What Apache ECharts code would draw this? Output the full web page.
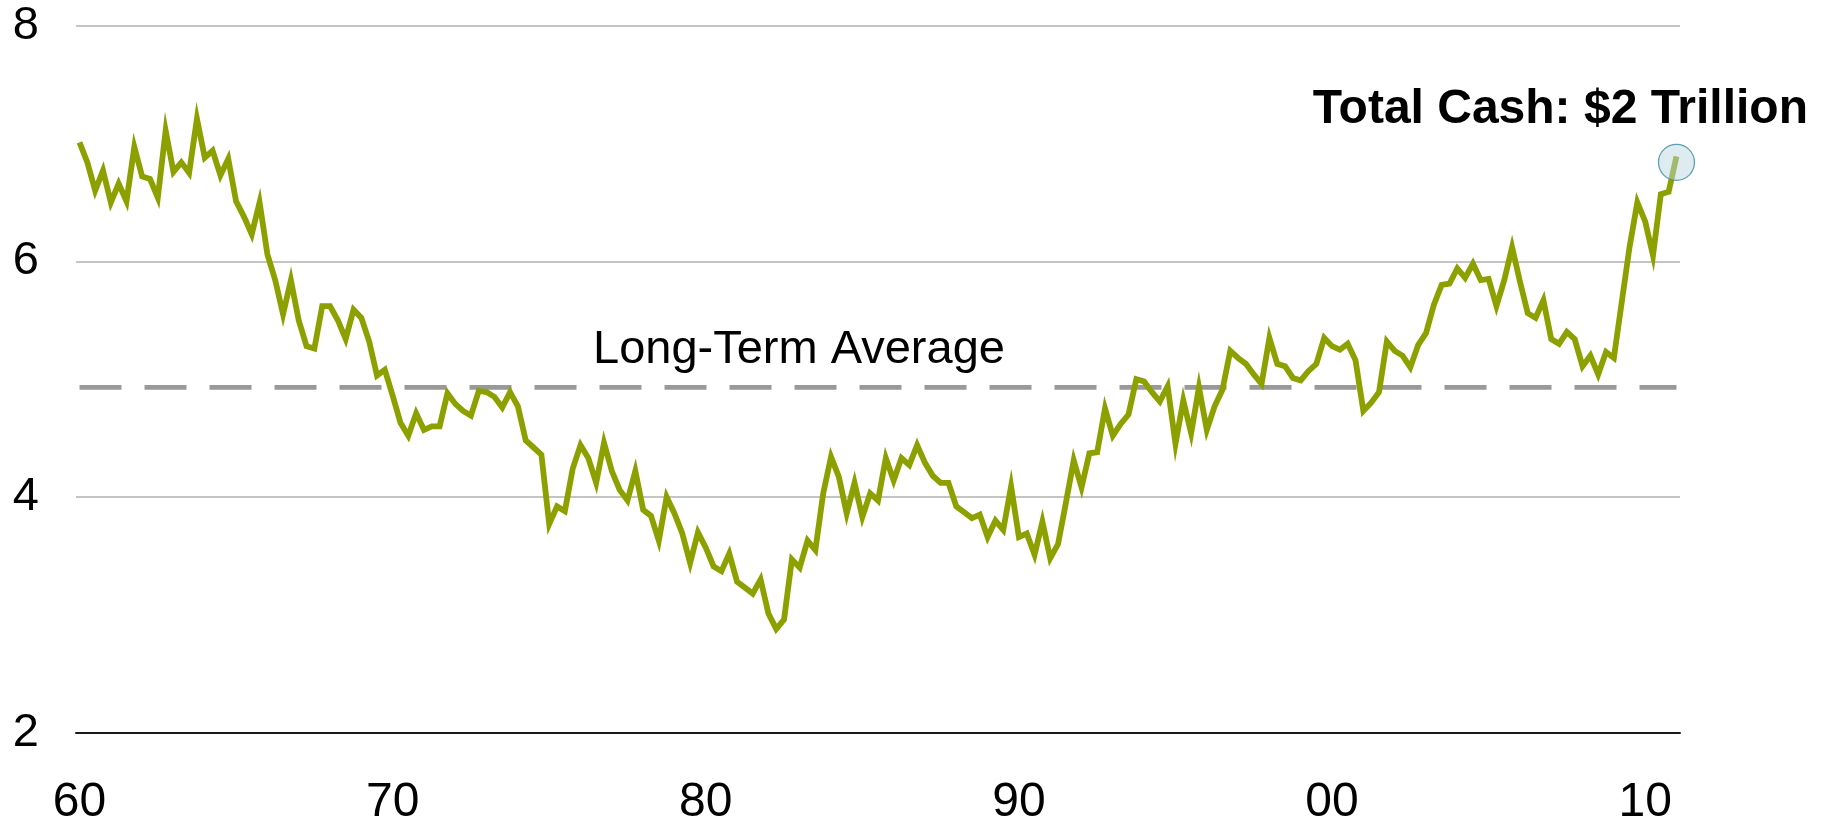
<!DOCTYPE html>
<html>
<head>
<meta charset="utf-8">
<script src="https://cdn.jsdelivr.net/npm/echarts@6/dist/echarts.min.js"></script>
<style>
html,body{margin:0;padding:0;background:#ffffff;}
#chart{width:1829px;height:822px;}
</style>
</head>
<body>
<div id="chart"></div>
<script>
// ---- data (quarterly, 1960 Q1 .. 2011 Q1) ----
const startYear = 1960;
const quartersPerYear = 4;
const cashShare = [
  7.01, 6.84, 6.60, 6.77, 6.50, 6.66, 6.51, 6.97, 6.72, 6.70,
  6.54, 7.11, 6.76, 6.84, 6.75, 7.21, 6.88, 6.94, 6.73, 6.87,
  6.51, 6.38, 6.23, 6.50, 6.06, 5.84, 5.55, 5.84, 5.50, 5.28,
  5.26, 5.62, 5.62, 5.50, 5.34, 5.59, 5.52, 5.32, 5.03, 5.08,
  4.86, 4.63, 4.52, 4.71, 4.57, 4.60, 4.60, 4.88, 4.79, 4.73,
  4.69, 4.90, 4.89, 4.85, 4.76, 4.89, 4.77, 4.48, 4.42, 4.36,
  3.77, 3.92, 3.88, 4.24, 4.44, 4.33, 4.12, 4.46, 4.22, 4.06,
  3.97, 4.22, 3.89, 3.84, 3.63, 4.00, 3.86, 3.69, 3.44, 3.70,
  3.57, 3.41, 3.37, 3.52, 3.28, 3.23, 3.18, 3.30, 3.01, 2.88,
  2.96, 3.47, 3.40, 3.63, 3.55, 4.03, 4.34, 4.17, 3.86, 4.12,
  3.83, 4.03, 3.97, 4.33, 4.14, 4.33, 4.27, 4.44, 4.29, 4.18,
  4.12, 4.12, 3.92, 3.87, 3.82, 3.85, 3.66, 3.80, 3.72, 4.09,
  3.66, 3.69, 3.51, 3.79, 3.48, 3.60, 3.95, 4.31, 4.08, 4.37,
  4.38, 4.75, 4.52, 4.62, 4.70, 5.00, 4.98, 4.89, 4.81, 4.94,
  4.45, 4.82, 4.54, 4.93, 4.57, 4.77, 4.91, 5.24, 5.18, 5.13,
  5.04, 4.96, 5.35, 5.13, 5.11, 5.01, 4.99, 5.07, 5.13, 5.35,
  5.28, 5.25, 5.30, 5.16, 4.73, 4.80, 4.89, 5.32, 5.24, 5.20,
  5.10, 5.29, 5.39, 5.63, 5.80, 5.81, 5.94, 5.86, 5.98, 5.84,
  5.85, 5.62, 5.84, 6.12, 5.83, 5.56, 5.52, 5.67, 5.34, 5.30,
  5.40, 5.34, 5.11, 5.20, 5.04, 5.23, 5.18, 5.65, 6.12, 6.50,
  6.34, 6.05, 6.57, 6.59, 6.89
];
const decadeTickYears = [1960, 1970, 1980, 1990, 2000, 2010];
const decadeTickLabels = ['60', '70', '80', '90', '00', '10'];
const yTickValues = [2, 4, 6, 8];
const longTermAverage = 4.93;
const latestHighlightValue = 6.84;
const totalCashText = 'Total Cash: $2 Trillion';
const averageText = 'Long-Term Average';

// ---- derived series ----
const yearOf = i => startYear + i / quartersPerYear;
const linePoints = cashShare.map((v, i) => [yearOf(i), v]);
const lastYear = yearOf(cashShare.length - 1);
const averagePoints = [[startYear, longTermAverage], [lastYear, longTermAverage]];
const highlightPoint = [[lastYear, latestHighlightValue]];

const FONT = "'Liberation Sans', Arial, Helvetica, sans-serif";
const chart = echarts.init(document.getElementById('chart'), null, {renderer: 'canvas'});

chart.setOption({
  backgroundColor: '#ffffff',
  animation: false,
  grid: {left: 76, right: 149, top: 25.7, bottom: 89.4, containLabel: false, outerBoundsMode: 'none'},
  xAxis: {
    type: 'value',
    min: startYear - 0.1125,
    max: lastYear + 0.1125,
    axisLine: {show: true, onZero: false, lineStyle: {color: '#1a1a1a', width: 2}},
    axisTick: {show: false},
    splitLine: {show: false},
    axisLabel: {
      customValues: decadeTickYears,
      formatter: v => decadeTickLabels[decadeTickYears.indexOf(Math.round(v))] ?? '',
      fontFamily: FONT, fontSize: 48, color: '#000000', margin: 46
    }
  },
  yAxis: {
    type: 'value',
    min: 2, max: 8, interval: 2,
    axisLine: {show: false},
    axisTick: {show: false},
    splitLine: {show: true, lineStyle: {color: '#c4c4c4', width: 2}},
    axisLabel: {
      customValues: yTickValues,
      fontFamily: FONT, fontSize: 47, color: '#000000', margin: 37
    }
  },
  series: [
    {
      name: 'average', type: 'line', data: averagePoints,
      symbol: 'none', silent: true, z: 2,
      lineStyle: {color: '#999999', width: 4.8, type: [42, 23]}
    },
    {
      name: 'cash', type: 'line', data: linePoints,
      symbol: 'none', silent: true, z: 3,
      lineStyle: {color: '#8ca000', width: 5.8, join: 'miter'}
    },
    {
      name: 'latest', type: 'scatter', data: highlightPoint,
      symbol: 'circle', symbolSize: 36, silent: true, z: 4,
      itemStyle: {color: 'rgba(185,216,225,0.6)', borderColor: '#3b8c9c', borderWidth: 1.3}
    }
  ],
  graphic: [
    {
      type: 'text', left: 593, top: 327, silent: true,
      style: {text: averageText, font: '47px ' + FONT, fill: '#000000'}
    },
    {
      type: 'text', right: 21, top: 86, silent: true,
      style: {text: totalCashText, font: 'bold 48px ' + FONT, fill: '#000000'}
    }
  ]
});
</script>
</body>
</html>
